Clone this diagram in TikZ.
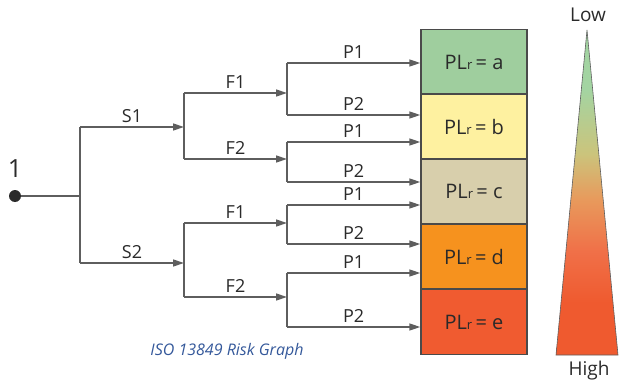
\documentclass[tikz,border=0pt]{standalone}
\usepackage{fontspec}
\setmainfont{Open Sans}
\usetikzlibrary{arrows.meta}

\definecolor{linegray}{HTML}{5E5E5E}
\definecolor{boxline}{HTML}{4A4A4A}
\definecolor{txt}{HTML}{2A2A2A}
\definecolor{pla}{HTML}{9FCE9E}
\definecolor{plb}{HTML}{FEF1A0}
\definecolor{plc}{HTML}{D8CFAC}
\definecolor{pld}{HTML}{F6921E}
\definecolor{ple}{HTML}{F05B30}
\definecolor{capblue}{HTML}{34589A}
\definecolor{gGreen}{HTML}{A3D4A2}
\definecolor{gYellow}{HTML}{CBC47C}
\definecolor{gTan}{HTML}{E89A5C}
\definecolor{gOrange}{HTML}{F07048}
\definecolor{gRed}{HTML}{EF5A2F}

% risk scale: red at the bottom, green at the top
\pgfdeclareverticalshading{riskscale}{100bp}{%
  color(0bp)=(gRed); color(25bp)=(gRed); color(33bp)=(gRed);
  color(41bp)=(gOrange); color(49bp)=(gTan); color(56bp)=(gYellow);
  color(66bp)=(gGreen); color(100bp)=(gGreen)}

\begin{document}
\begin{tikzpicture}[x=1pt,y=-1pt,
  conn/.style={draw=linegray, line width=1.4pt},
  arr/.style={conn, -{Triangle[length=11pt,width=7pt]}},
  lbl/.style={above, inner sep=0pt, yshift=4pt, font=\fontsize{18}{18}\selectfont, text=txt},
  plbox/.style={draw=boxline, line width=1.4pt, minimum width=106pt, minimum height=65pt,
    inner sep=0pt, text=txt, font=\fontsize{20}{20}\selectfont},
  dot/.style={circle, fill=txt, minimum size=12pt, inner sep=0pt}]

\useasboundingbox (0,0) rectangle (620,385);

% start point
\node[dot] (start) at (15,196) {};
\node[text=txt, font=\fontsize{25}{25}\selectfont] (one) at (15,169) {1};

% branch points
\coordinate (t)   at (80,196);
\coordinate (s1)  at (80,127);
\coordinate (s2)  at (80,263);
\coordinate (f1u) at (184,93);
\coordinate (f2u) at (184,159);
\coordinate (f1l) at (184,223);
\coordinate (f2l) at (184,297);
\coordinate (sp1) at (184,127);
\coordinate (sp2) at (184,263);
\coordinate (fp1) at (287,93);
\coordinate (fp2) at (287,159);
\coordinate (fp3) at (287,223);
\coordinate (fp4) at (287,297);
\coordinate (q1) at (287,63);
\coordinate (q2) at (287,115);
\coordinate (q3) at (287,142);
\coordinate (q4) at (287,182);
\coordinate (q5) at (287,205);
\coordinate (q6) at (287,244);
\coordinate (q7) at (287,273);
\coordinate (q8) at (287,327);

% result boxes
\newcommand{\plr}[1]{PL{\fontsize{13}{13}\selectfont r}\,= #1}
\node[plbox, fill=pla] (ba) at (474,62)    {\plr{a}};
\node[plbox, fill=plb] (bb) at (474,126.5) {\plr{b}};
\node[plbox, fill=plc] (bc) at (474,191.5) {\plr{c}};
\node[plbox, fill=pld] (bd) at (474,256.5) {\plr{d}};
\node[plbox, fill=ple] (be) at (474,322)   {\plr{e}};

% severity
\draw[conn] (start) -- (t);
\draw[conn] (s1) -- (s2);
\draw[arr] (s1) -- node[lbl] {S1} (sp1);
\draw[arr] (s2) -- node[lbl] {S2} (sp2);

% frequency
\draw[conn] (f1u) -- (f2u);
\draw[conn] (f1l) -- (f2l);
\draw[arr] (f1u) -- node[lbl] {F1} (fp1);
\draw[arr] (f2u) -- node[lbl] {F2} (fp2);
\draw[arr] (f1l) -- node[lbl] {F1} (fp3);
\draw[arr] (f2l) -- node[lbl] {F2} (fp4);

% possibility of avoidance
\draw[conn] (q1) -- (q2);
\draw[conn] (q3) -- (q4);
\draw[conn] (q5) -- (q6);
\draw[conn] (q7) -- (q8);
\draw[arr] (q1) -- node[lbl] {P1} (q1 -| ba.west);
\draw[arr] (q2) -- node[lbl] {P2} (q2 -| bb.west);
\draw[arr] (q3) -- node[lbl] {P1} (q3 -| bb.west);
\draw[arr] (q4) -- node[lbl] {P2} (q4 -| bc.west);
\draw[arr] (q5) -- node[lbl] {P1} (q5 -| bc.west);
\draw[arr] (q6) -- node[lbl] {P2} (q6 -| bd.west);
\draw[arr] (q7) -- node[lbl] {P1} (q7 -| bd.west);
\draw[arr] (q8) -- node[lbl] {P2} (q8 -| be.west);

% risk scale wedge
\draw[draw=linegray, line width=0.6pt, shading=riskscale]
  (587,30) -- (618,355) -- (556,355) -- cycle;
\node[text=txt, font=\fontsize{19}{19}\selectfont] (low) at (588,15) {Low};
\node[text=txt, font=\fontsize{19}{19}\selectfont] (high) at (589,371) {High};

% caption
\node[text=capblue, font=\fontsize{16}{16}\selectfont\itshape] (cap) at (227,351) {ISO 13849 Risk Graph};
\end{tikzpicture}
\end{document}
